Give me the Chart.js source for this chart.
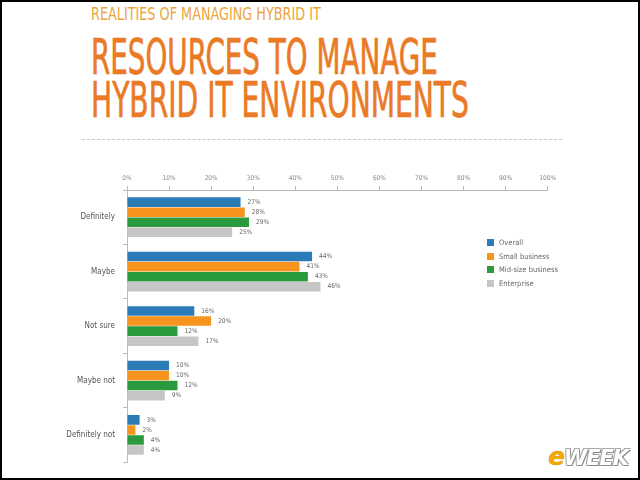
<!DOCTYPE html>
<html>
<head>
<meta charset="utf-8">
<script src="https://cdn.jsdelivr.net/npm/chart.js@4"></script>
<style>
  html, body { margin: 0; padding: 0; background: #000; }
  #frame {
    position: relative; width: 636px; height: 476px; margin: 2px;
    background: #fff; overflow: hidden;
  }
  .t { position: absolute; left: 89px; font-family: 'DejaVu Sans Condensed', sans-serif;
       white-space: nowrap; transform-origin: 0 0; }
  #kicker { top: 2px; color: #e9a53c; font-size: 16px; transform: scale(0.89, 1.05); }
  #title1 { top: 25px; color: #ea7a26; font-size: 42px; transform: scale(0.735, 1.2); -webkit-text-stroke: 0.6px #ea7a26; }
  #title2 { top: 68px; color: #ea7a26; font-size: 42px; transform: scale(0.745, 1.2); -webkit-text-stroke: 0.6px #ea7a26; }
  #rule { position: absolute; left: 80px; top: 137px; width: 480px; border-top: 1px dashed #c8c8c8; }
  #chartBox { position: absolute; left: 58px; top: 158px; width: 500px; height: 315px; }
  #legend { position: absolute; left: 485px; top: 234px; font-family: 'DejaVu Sans Condensed', sans-serif;
            font-size: 7.5px; color: #666; }
  #legend div { height: 13.5px; display: flex; align-items: center; }
  #legend span.sw { width: 7px; height: 7px; margin-right: 5px; display: inline-block; }
  #logo { position: absolute; left: 546px; top: 440px; font-family: 'DejaVu Sans', sans-serif; font-weight: bold;
          font-style: italic; font-size: 21px; letter-spacing: -1px; }
  #logo .e { color: #f2a900; font-size: 25px; text-shadow: 0 0 1px #a06a00; }
  #logo .w { color: #fff; text-shadow: 1px 1px 0 #888, -1px -1px 0 #aaa, 1px -1px 0 #aaa, -1px 1px 0 #aaa; }
</style>
</head>
<body>
<div id="frame">
  <div class="t" id="kicker">REALITIES OF MANAGING HYBRID IT</div>
  <div class="t" id="title1">RESOURCES TO MANAGE</div>
  <div class="t" id="title2">HYBRID IT ENVIRONMENTS</div>
  <div id="rule"></div>
  <div id="chartBox"><canvas id="resources"></canvas></div>
  <div id="legend"></div>
  <div id="logo"><span class="e">e</span><span class="w">WEEK</span></div>
</div>
<script>
const categories = ['Definitely', 'Maybe', 'Not sure', 'Maybe not', 'Definitely not']
const seriesNames = ['Overall', 'Small business', 'Mid-size business', 'Enterprise']
const overall = [27, 44, 16, 10, 3]
const smallBusiness = [28, 41, 20, 10, 2]
const midSize = [29, 43, 12, 12, 4]
const enterprise = [25, 46, 17, 9, 4]
const xTicks = [0, 10, 20, 30, 40, 50, 60, 70, 80, 90, 100]

const colors = ['#2b7bb6', '#f7941d', '#2b9a3e', '#c6c6c6']
const seriesValues = [overall, smallBusiness, midSize, enterprise]
const FONT = '"DejaVu Sans Condensed", sans-serif'

const ctx = document.getElementById('resources').getContext('2d')

// value labels at the end of each bar
const barLabels = {
  id: 'barLabels',
  afterDatasetsDraw(chart) {
    const c = chart.ctx
    c.save()
    c.font = '6.5px ' + FONT
    c.fillStyle = '#666'
    c.textBaseline = 'middle'
    chart.data.datasets.forEach((ds, i) => {
      chart.getDatasetMeta(i).data.forEach((bar, j) => {
        c.fillText(ds.data[j] + '%', bar.x + 7, bar.y)
      })
    })
    c.restore()
  },
}

const chart = new Chart(ctx, {
  type: 'bar',
  data: {
    labels: categories,
    datasets: seriesNames.map((name, i) => ({
      label: name,
      data: seriesValues[i],
      backgroundColor: colors[i],
      categoryPercentage: 0.74,
      barPercentage: 0.95,
    })),
  },
  options: {
    indexAxis: 'y',
    responsive: true,
    maintainAspectRatio: false,
    animation: false,
    plugins: {
      legend: { display: false },
      tooltip: { enabled: false },
    },
    scales: {
      x: {
        position: 'top',
        min: 0,
        max: 100,
        afterBuildTicks: axis => {
          axis.ticks = xTicks.map(v => ({ value: v }))
        },
        afterFit: axis => {
          axis.height = 30
        },
        ticks: {
          callback: v => v + '%',
          color: '#888',
          font: { family: FONT, size: 6.5 },
          maxRotation: 0,
          padding: 4,
        },
        grid: { drawOnChartArea: false, color: '#bbb', tickLength: 4 },
        border: { color: '#bbb' },
      },
      y: {
        afterFit: axis => {
          axis.width = 67
        },
        ticks: {
          color: '#555',
          font: { family: FONT, size: 8 },
          padding: 8,
        },
        grid: { drawOnChartArea: false, color: '#bbb', tickLength: 4, offset: true },
        border: { color: '#bbb' },
      },
    },
  },
  plugins: [barLabels],
})

const legend = document.getElementById('legend')
seriesNames.forEach((name, i) => {
  const row = document.createElement('div')
  row.innerHTML = '<span class="sw" style="background:' + colors[i] + '"></span>' + name
  legend.appendChild(row)
})
</script>
</body>
</html>
